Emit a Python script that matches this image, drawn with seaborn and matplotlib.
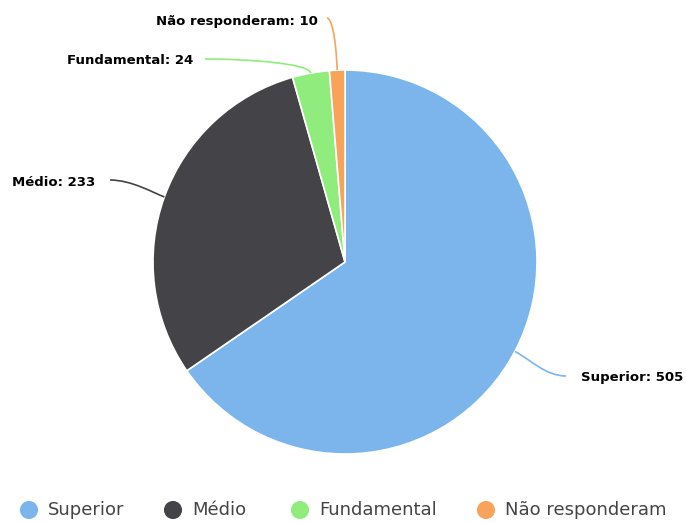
import numpy as np
import matplotlib
matplotlib.use("Agg")
import matplotlib.pyplot as plt
from matplotlib.path import Path
from matplotlib.patches import PathPatch
import seaborn as sns

# Escolaridade dos respondentes
categories = ["Superior", "Médio", "Fundamental", "Não responderam"]
values = [505, 233, 24, 10]
colors = ["#7cb5ec", "#434348", "#90ed7d", "#f7a35c"]

sns.set_theme(style="white")
plt.rcParams["font.family"] = ["DejaVu Sans"]

W, H = 686, 523
fig = plt.figure(figsize=(W / 100, H / 100), dpi=100)
ax = fig.add_axes([0, 0, 1, 1])

cx, cy, r = 345, H - 262, 192
wedges, _ = ax.pie(values, colors=colors, startangle=90, counterclock=False,
                   center=(cx, cy), radius=r, frame=True,
                   wedgeprops=dict(edgecolor="white", linewidth=1.2))
ax.set_xlim(0, W)
ax.set_ylim(0, H)
ax.set_aspect("equal")
ax.axis("off")

# label end points (pixel coords, y from top) and text alignment
label_layout = {
    "Superior": dict(end=(566, 376), text=(581, 377), ha="left"),
    "Médio": dict(end=(110, 180), text=(95, 183), ha="right"),
    "Fundamental": dict(end=(205, 59), text=(193, 60), ha="right"),
    "Não responderam": dict(end=(327, 18), text=(318, 22), ha="right"),
}

for w, cat, val, col in zip(wedges, categories, values, colors):
    mid = np.deg2rad((w.theta1 + w.theta2) / 2)
    ux, uy = np.cos(mid), np.sin(mid)
    p0 = (cx + r * ux, cy + r * uy)
    lay = label_layout[cat]
    ex, ey = lay["end"][0], H - lay["end"][1]
    dx, dy = ex - p0[0], ey - p0[1]
    k1 = 0.7 * abs(dy)
    c1 = (p0[0] + k1 * ux, p0[1] + k1 * uy)
    c2 = (ex - 0.4 * dx, ey)
    path = Path([p0, c1, c2, (ex, ey)],
                [Path.MOVETO, Path.CURVE4, Path.CURVE4, Path.CURVE4])
    ax.add_patch(PathPatch(path, facecolor="none", edgecolor=col, lw=1.2))
    tx, ty = lay["text"][0], H - lay["text"][1]
    ax.text(tx, ty, f"{cat}: {val}", ha=lay["ha"], va="center",
            fontsize=9.5, fontweight="bold", color="#000000")

# legend row along the bottom
legend_x = [29, 173, 300, 486]
legend_y = H - 510
for x, cat, col in zip(legend_x, categories, colors):
    ax.scatter([x], [legend_y], s=170, color=col, edgecolor="none")
    ax.text(x + 19, legend_y, cat, ha="left", va="center",
            fontsize=13, color="#444444")

fig.savefig("out.png", dpi=100)
